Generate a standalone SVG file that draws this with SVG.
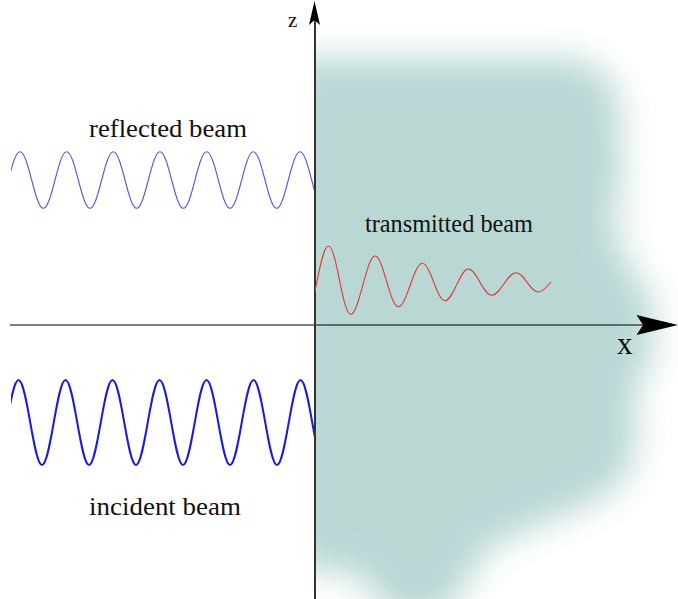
<svg xmlns="http://www.w3.org/2000/svg" width="678" height="599" viewBox="0 0 678 599">
<style>
.lbl{font-family:"Liberation Serif","Times New Roman",serif;fill:#111}
.wave{fill:none;stroke-linejoin:round;stroke-linecap:round}
</style>
<defs>
<filter id="blur" x="-30%" y="-30%" width="160%" height="160%">
<feGaussianBlur stdDeviation="17"/>
</filter>
<clipPath id="rightHalf"><rect x="315" y="0" width="363" height="599"/></clipPath>
<clipPath id="leftWave"><rect x="11" y="0" width="303" height="599"/></clipPath>
<clipPath id="transWave"><rect x="315" y="0" width="236" height="599"/></clipPath>
</defs>
<rect width="678" height="599" fill="#fff"/>
<g id="medium" clip-path="url(#rightHalf)">
<path filter="url(#blur)" fill="#b9d8d4" d="M290 58 L560 58 Q615 60 620 112 L623 262 L650 290 L655 350 L636 385 L634 458 Q624 494 565 514 L490 546 L445 615 L395 620 L360 575 L290 568 Z"/>
<rect x="606" y="194" width="46" height="46" fill="#fff" opacity="0.35" filter="url(#blur)"/>
</g>
<g id="connectors">
<line x1="10" y1="325" x2="645" y2="325" stroke="#000" stroke-width="1"/>
<polygon points="678,325 636.5,315 643,325 636.5,335" fill="#000"/>
<line x1="315" y1="18" x2="315" y2="599" stroke="#333" stroke-width="2"/>
<polygon points="314.5,1 309,25 314.5,20 320,25" fill="#000"/>
</g>
<g id="reflected-wave" clip-path="url(#leftWave)">
<path class="wave" stroke="#5555ee" stroke-width="1.1" d="M-26.67 151.7 C-18.19 151.7 -11.81 208.3 -3.330 208.3 S11.52 151.7 20 151.7 S34.85 208.3 43.33 208.3 S58.19 151.7 66.67 151.7 S81.52 208.3 90 208.3 S104.85 151.7 113.33 151.7 S128.19 208.3 136.67 208.3 S151.52 151.7 160 151.7 S174.85 208.3 183.33 208.3 S198.19 151.7 206.67 151.7 S221.52 208.3 230 208.3 S244.85 151.7 253.33 151.7 S268.19 208.3 276.67 208.3 S291.52 151.7 300 151.7 S314.85 208.3 323.33 208.3"/>
</g>
<g id="incident-wave" clip-path="url(#leftWave)">
<path class="wave" stroke="#1a1ae6" stroke-width="2" d="M-28.5 380 C-19.96 380 -13.54 465 -5 465 S9.96 380 18.5 380 S33.46 465 42 465 S56.96 380 65.5 380 S80.46 465 89 465 S103.96 380 112.5 380 S127.46 465 136 465 S150.96 380 159.5 380 S174.46 465 183 465 S197.96 380 206.5 380 S221.46 465 230 465 S244.96 380 253.5 380 S268.46 465 277 465 S291.96 380 300.5 380 S315.46 465 324 465"/>
</g>
<g id="transmitted-wave" clip-path="url(#transWave)">
<path class="wave" stroke="#e03838" stroke-width="1.1" d="M305 320 C313.5 320 319.8 246 328.3 246 S342.2 314.3 350.7 314.3 S366.5 256 375 256 S389.8 306.7 398.3 306.7 S413.8 263.3 422.3 263.3 S436.5 300.7 445 300.7 S459.8 269 468.3 269 S483.2 295.3 491.7 295.3 S507.5 272.7 516 272.7 S529.8 292 538.3 292 S553.5 274 562 274"/>
</g>
<g id="label-z"><text class="lbl" x="288" y="27" font-size="21">z</text></g>
<g id="label-x"><text class="lbl" x="617" y="354" font-size="31">x</text></g>
<g id="label-reflected"><text class="lbl" x="89" y="137" font-size="25" textLength="158" lengthAdjust="spacingAndGlyphs">reflected beam</text></g>
<g id="label-transmitted"><text class="lbl" x="365" y="232" font-size="25" textLength="168" lengthAdjust="spacingAndGlyphs">transmitted beam</text></g>
<g id="label-incident"><text class="lbl" x="89" y="515" font-size="25" textLength="152" lengthAdjust="spacingAndGlyphs">incident beam</text></g>
</svg>
